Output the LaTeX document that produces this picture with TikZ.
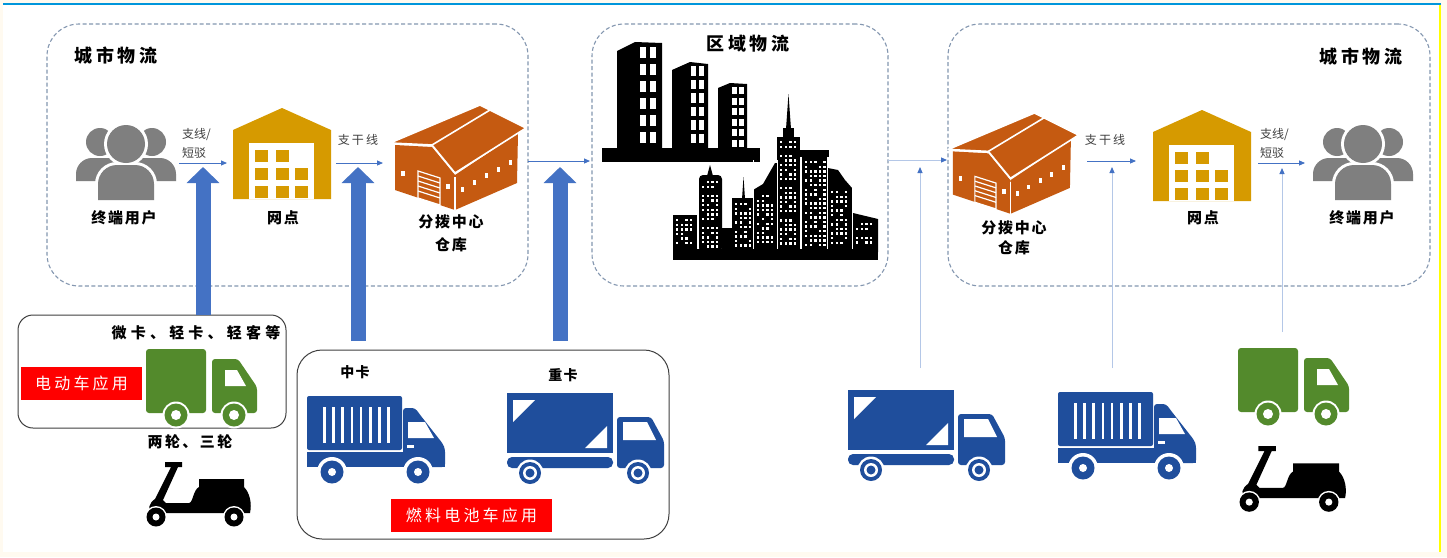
\documentclass[tikz,border=0pt]{standalone}
\usepackage{fontspec}
\usetikzlibrary{arrows.meta}
\newfontfamily\cjk{Noto Sans CJK SC}

\definecolor{topblue}{HTML}{0096DB}
\definecolor{cream}{HTML}{FFFAF0}
\definecolor{edgeyellow}{HTML}{FFFF00}
\definecolor{dashgray}{HTML}{8497B0}
\definecolor{flowblue}{HTML}{4472C4}
\definecolor{paleblue}{HTML}{B4C7E7}
\definecolor{peoplegray}{HTML}{7F7F7F}
\definecolor{gold}{HTML}{D69A00}
\definecolor{rust}{HTML}{C55A11}
\definecolor{truckgreen}{HTML}{538A2C}
\definecolor{truckblue}{HTML}{1F4E9C}
\definecolor{labelred}{HTML}{FF0000}
\definecolor{boxedge}{HTML}{3F3F3F}

% block with rounded top corners: x0, x1, top, bottom, radius
\newcommand\roundtop[5]{(#1,#4) -- (#1,{#3+#5}) .. controls (#1,{#3+0.45*#5}) and ({#1+0.45*#5},#3) .. ({#1+#5},#3) -- ({#2-#5},#3) .. controls ({#2-0.45*#5},#3) and (#2,{#3+0.45*#5}) .. (#2,{#3+#5}) -- (#2,#4) -- cycle}

% scattered lit windows on a skyline block: x0, x1, y0, y1
\newcommand\winds[4]{%
  \pgfmathtruncatemacro\nwx{(#2-#1-3.4)/4.6}%
  \pgfmathtruncatemacro\nwy{(#4-#3-3.4)/4.6}%
  \foreach \i in {0,...,\nwx}{\foreach \j in {0,...,\nwy}{%
    \pgfmathtruncatemacro\rr{mod(\i*5+\j*3+\i*\j+#1,7)}%
    \ifnum\rr>1 \fill[white] ({#1+1+4.6*\i},{#3+1+4.6*\j}) rectangle ++(2.4,2.4);\fi}}}

\tikzset{
  zone/.style={draw=dashgray, line width=1.1pt, dash pattern=on 4pt off 2.5pt,
    rounded corners=32pt, inner sep=0pt},
  vbox/.style={draw=boxedge, line width=1pt, inner sep=0pt},
  flowarrow/.style={draw=flowblue, line width=0.9pt, -{Triangle[length=6pt,width=5pt]}},
  riser/.style={draw=paleblue, line width=1pt, -{Triangle[length=6pt,width=5pt,color=flowblue]}},
  bigarrow/.style={draw=flowblue, line width=15pt, -{Triangle[length=16pt,width=32pt]}},
  ttl/.style={font={\cjk\bfseries\fontsize{18}{20}\selectfont\addfontfeature{LetterSpace=20}}, inner sep=0pt},
  lbl/.style={font={\cjk\bfseries\fontsize{15}{18}\selectfont\addfontfeature{LetterSpace=12}}, inner sep=0pt},
  lnk/.style={font={\cjk\fontsize{12}{14}\selectfont}, text=black!75, inner sep=0pt},
  trunk/.style={font={\cjk\fontsize{12}{14}\selectfont\addfontfeature{LetterSpace=18}}, text=black!75, inner sep=0pt},
  note/.style={font={\cjk\bfseries\fontsize{15}{18}\selectfont\addfontfeature{LetterSpace=28}}, inner sep=0pt},
  tagbox/.style={fill=labelred, text=white, inner sep=0pt,
    font={\cjk\fontsize{16}{18}\selectfont\addfontfeature{LetterSpace=20}}},
  % group of end users
  pics/people/.style={code={
    \fill[peoplegray] (24,17) circle[radius=14];
    \fill[peoplegray] \roundtop{0}{48}{33}{56}{16};
    \fill[peoplegray] (76,17) circle[radius=14];
    \fill[peoplegray] \roundtop{52}{100}{33}{56}{16};
    \fill[white] (50,19) circle[radius=22];
    \fill[white] \roundtop{19}{81}{37}{75}{22};
    \fill[peoplegray] (50,19) circle[radius=19];
    \fill[peoplegray] \roundtop{22}{78}{40}{75}{19};
  }},
  % delivery outlet
  pics/depot/.style={code={
    \fill[gold] (0,22) -- (49,0) -- (98,22) -- (98,91) -- (0,91) -- cycle;
    \fill[white] (16,35) rectangle (81,91);
    \foreach \cx/\cy in {22/42,43/42,22/60,43/60,62/60,22/78,43/78,62/78}
      \fill[gold] (\cx,\cy) rectangle ++(13,12);
  }},
  % distribution centre warehouse
  pics/hub/.style={code={
    \fill[rust] (5,85) -- (65,105) -- (65,70) -- (42,42) -- (5,40) -- cycle;
    \fill[rust] (65,70) -- (65,105) -- (127,78) -- (128,28) -- cycle;
    \draw[white, line width=1.2pt] (65,72) -- (65,105);
    \fill[rust, draw=white, line width=1.6pt, line join=round]
      (0,38) -- (90,0) -- (136,23) -- (65,68) -- (42,40) -- cycle;
    \draw[white, line width=1.6pt] (42,40) -- (100,5);
    \draw[white, line width=1.2pt] (28,66) -- (50,73) -- (50,100) -- (28,93) -- cycle;
    \foreach \k in {0,1,2,3}
      \draw[white, line width=1.2pt] (28,{71+5*\k}) -- (50,{78+5*\k});
    \fill[white] (11,66) rectangle ++(4,5);
    \fill[white] (56,79) rectangle ++(4,5);
    \foreach \wx/\wy in {72/84,84/77,96/70.5,108/64,120/57}
      \fill[white] ({\wx-1.5},{\wy-2.5}) rectangle ++(3,5);
  }},
  % small electric van
  pics/vangreen/.style={code={
    \fill[truckgreen, rounded corners=3pt] (0,0) rectangle (60,64);
    \fill[truckgreen, rounded corners=3pt] (66,64) -- (66,10) -- (92,10) -- (111,38) -- (111,64) -- cycle;
    \fill[white] (79,21) -- (91,21) -- (100,37) -- (79,37) -- cycle;
    \foreach \wx in {30,88} {
      \fill[white] (\wx,66) circle[radius=13.5];
      \fill[truckgreen] (\wx,66) circle[radius=11.5];
      \fill[white] (\wx,66) circle[radius=5];
    }
  }},
  % medium box truck
  pics/boxtruck/.style={code={
    \fill[truckblue, rounded corners=2pt] (0,0) rectangle (95,54);
    \foreach \k in {0,...,7}
      \fill[white] ({16+9.2*\k},11) rectangle ++(2.6,36);
    \fill[truckblue] (0,56) rectangle (138,71);
    \fill[truckblue, rounded corners=3pt] (96,71) -- (96,12) -- (108,12) -- (114,20) -- (136,48) -- (138,53) -- (138,71) -- cycle;
    \fill[white] (101,26) -- (118,26) -- (127,42) -- (101,42) -- cycle;
    \fill[white] (100,49) rectangle (107,51.5);
    \foreach \wx in {25,111} {
      \fill[white] (\wx,76) circle[radius=15];
      \fill[truckblue] (\wx,76) circle[radius=11.5];
      \fill[white] (\wx,76) circle[radius=4];
    }
  }},
  % heavy truck
  pics/heavytruck/.style={code={
    \fill[truckblue] (0,0) rectangle (106,60);
    \fill[white] (6,7) -- (28,7) -- (6,29) -- cycle;
    \fill[white] (100,33) -- (100,55) -- (78,55) -- cycle;
    \fill[truckblue, rounded corners=5pt] (0,64) rectangle (106,75);
    \fill[truckblue, rounded corners=3pt] (110,75) -- (110,24) -- (144,24) -- (157,48) -- (157,75) -- cycle;
    \fill[white] (116,29) -- (140,29) -- (149,47) -- (116,47) -- cycle;
    \foreach \wx in {23,131} {
      \fill[white] (\wx,80) circle[radius=13.5];
      \fill[truckblue] (\wx,80) circle[radius=11];
      \fill[white] (\wx,80) circle[radius=7];
      \fill[truckblue] (\wx,80) circle[radius=4.5];
    }
  }},
  % two-wheeler
  pics/scooter/.style={code={
    \fill[black] (20,0) -- (37,0) -- (37,5) -- (33,5) -- (18,38) -- (21,41) -- (44,41)
      .. controls (48,41) and (48,28) .. (54,25) -- (54,17) -- (99,17) -- (99,25)
      .. controls (105,31) and (107,42) .. (105,51) -- (7,51)
      .. controls (2,48) and (4,41) .. (10,37) -- (26,5) -- (20,5) -- cycle;
    \foreach \wx in {11,89} {
      \fill[white] (\wx,55) circle[radius=11];
      \fill[black] (\wx,55) circle[radius=9.5];
      \fill[white] (\wx,55) circle[radius=3.5];
    }
  }}
}

\begin{document}
\begin{tikzpicture}[x=1pt,y=-1pt]
\useasboundingbox (0,0) rectangle (1447,557);
% page frame
\fill[cream] (0,0) rectangle (1447,557);
\fill[white] (3,5) rectangle (1439,552);
\draw[topblue, line width=2pt] (3,3.5) -- (1441,3.5);
\draw[edgeyellow, line width=2.2pt] (1440,4.5) -- (1440,552);

% logistics zones
\node[zone, minimum width=481pt, minimum height=262pt] (cityL) at (287.5,155) {};
\node[zone, minimum width=296pt, minimum height=262pt] (region) at (740,155) {};
\node[zone, minimum width=482pt, minimum height=262pt] (cityR) at (1189,155) {};

% vehicle groups
\node[vbox, rounded corners=15pt, minimum width=268pt, minimum height=113pt] (evbox) at (152,371.5) {};
\node[vbox, rounded corners=25pt, minimum width=372pt, minimum height=189pt] (fcbox) at (483,444.5) {};

% zone titles
\node[ttl] (tL) at (116,56) {城市物流};
\node[ttl] (tM) at (748,44) {区域物流};
\node[ttl] (tR) at (1361,57) {城市物流};

% left city chain
\pic at (76,125) {people};
\pic at (233,108) {depot};
\pic at (390,105) {hub};
\node[lbl] (uL) at (124,218) {终端用户};
\node[lbl] (dL) at (283,218) {网点};
\node[lbl] (hL1) at (451,222) {分拨中心};
\node[lbl] (hL2) at (451,245) {仓库};
\node[lnk, anchor=west] (sL1) at (182,135) {支线/};
\node[lnk, anchor=west] (sL2) at (182,153) {短驳};
\node[trunk] (gL) at (358,140) {支干线};

% regional city skyline
\fill (602,148) rectangle (760,162);
\fill (617,51) -- (635,42) -- (662,43) -- (662,150) -- (617,150) -- cycle;
\fill (672,70) -- (690,62) -- (708,64) -- (708,150) -- (672,150) -- cycle;
\fill (718,88) -- (730,83) -- (747,84) -- (747,150) -- (718,150) -- cycle;
\foreach \r in {0,...,5} {
  \fill[white] (640,{47+17*\r}) rectangle ++(6,11);
  \fill[white] (650,{47+17*\r}) rectangle ++(6,11);
  \fill[white] (691,{66+13.5*\r}) rectangle ++(5,9.5);
  \fill[white] (699,{66+13.5*\r}) rectangle ++(5,9.5);
  \fill[white] (732,{87+10.5*\r}) rectangle ++(5,7);
  \fill[white] (739,{87+10.5*\r}) rectangle ++(5,7);
}
\fill (673,215) rectangle (697,252);
\fill[rounded corners=4pt] (699,252) -- (699,175) -- (722,175) -- (722,252) -- cycle;
\fill (707,176) -- (710,165) -- (713,176) -- cycle;
\fill (722,228) rectangle (733,252);
\fill (732,198) rectangle (753,252);
\fill (742,199) -- (743.5,177) -- (745,199) -- cycle;
\fill (753,252) -- (753,190) -- (763,184) -- (775,163) -- (777,163) -- (777,252) -- cycle;
\fill (777,137) rectangle (800,252);
\fill (783,138) -- (783,128) -- (794,128) -- (794,138) -- cycle;
\fill (786,129) -- (788.5,94) -- (791,129) -- cycle;
\fill (802,157) rectangle (827,252);
\fill (800,150) rectangle (829,157);
\fill (828,252) -- (828,168) -- (838,170) -- (845,180) -- (852,188) -- (852,252) -- cycle;
\fill (853,252) -- (853,213) -- (878,219) -- (878,252) -- cycle;
\foreach \gx in {753,777,827.5,852.5}
  \draw[white, line width=1pt] (\gx,160) -- (\gx,249);
\winds{675}{696}{218}{248}
\winds{701}{721}{180}{248}
\winds{734}{752}{202}{248}
\winds{756}{775}{194}{248}
\winds{779}{799}{140}{248}
\winds{804}{826}{160}{248}
\winds{830}{850}{190}{248}
\winds{855}{877}{222}{248}
\fill (673,249) rectangle (878,260);

% right city chain
\pic[scale=0.96] at (948,113) {hub};
\pic at (1153,110) {depot};
\pic at (1313,125) {people};
\node[lbl] (hR1) at (1014,228) {分拨中心};
\node[lbl] (hR2) at (1014,248) {仓库};
\node[lbl] (dR) at (1203,218) {网点};
\node[lbl] (uR) at (1362,218) {终端用户};
\node[trunk] (gR) at (1105,140) {支干线};
\node[lnk, anchor=west] (sR1) at (1260,135) {支线/};
\node[lnk, anchor=west] (sR2) at (1260,153) {短驳};

% electric vehicles
\pic at (146,349) {vangreen};
\pic at (145,462) {scooter};
\node[note] (evnote) at (196,333) {微卡、轻卡、轻客等};
\node[tagbox, minimum width=121pt, minimum height=33pt] (evtag) at (81.5,383.5) {电动车应用};
\node[note, font={\cjk\bfseries\fontsize{15}{18}\selectfont\addfontfeature{LetterSpace=16}}] (twonote) at (190,442) {两轮、三轮};

% fuel-cell vehicles
\pic at (307,396) {boxtruck};
\pic at (507,393) {heavytruck};
\node[lbl, font={\cjk\bfseries\fontsize{14}{16}\selectfont\addfontfeature{LetterSpace=10}}] (mid) at (355,372) {中卡};
\node[lbl, font={\cjk\bfseries\fontsize{14}{16}\selectfont\addfontfeature{LetterSpace=10}}] (heavy) at (563,375) {重卡};
\node[tagbox, minimum width=161pt, minimum height=33pt] (fctag) at (471.5,515) {燃料电池车应用};

% vehicles serving the receiving city
\pic at (848,390) {heavytruck};
\pic at (1058,392) {boxtruck};
\pic at (1238,348) {vangreen};
\pic[scale=1.02] at (1238,446) {scooter};

% flow connectors
\coordinate (a1s) at (179,163); \coordinate (a1e) at (227,163);
\coordinate (a2s) at (336,163); \coordinate (a2e) at (383,163);
\coordinate (a3s) at (528,161); \coordinate (a3e) at (590,161);
\coordinate (a4s) at (888,160); \coordinate (a4e) at (947,160);
\coordinate (a5s) at (1087,161); \coordinate (a5e) at (1136,161);
\coordinate (a6s) at (1258,163); \coordinate (a6e) at (1305,163);
\draw[flowarrow] (a1s) -- (a1e);
\draw[flowarrow] (a2s) -- (a2e);
\draw[flowarrow] (a3s) -- (a3e);
\draw[riser] (a4s) -- (a4e);
\draw[flowarrow] (a5s) -- (a5e);
\draw[flowarrow] (a6s) -- (a6e);

% vehicle supply into the chain
\coordinate (b1s) at (203,315); \coordinate (b1e) at (203,167);
\coordinate (b2s) at (358,341); \coordinate (b2e) at (358,167);
\coordinate (b3s) at (560,341); \coordinate (b3e) at (560,167);
\draw[bigarrow] (b1s) -- (b1e);
\draw[bigarrow] (b2s) -- (b2e);
\draw[bigarrow] (b3s) -- (b3e);
\coordinate (r1s) at (920,368); \coordinate (r1e) at (920,167);
\coordinate (r2s) at (1112,368); \coordinate (r2e) at (1112,167);
\coordinate (r3s) at (1282,332); \coordinate (r3e) at (1282,168);
\draw[riser] (r1s) -- (r1e);
\draw[riser] (r2s) -- (r2e);
\draw[riser] (r3s) -- (r3e);
\end{tikzpicture}
\end{document}
